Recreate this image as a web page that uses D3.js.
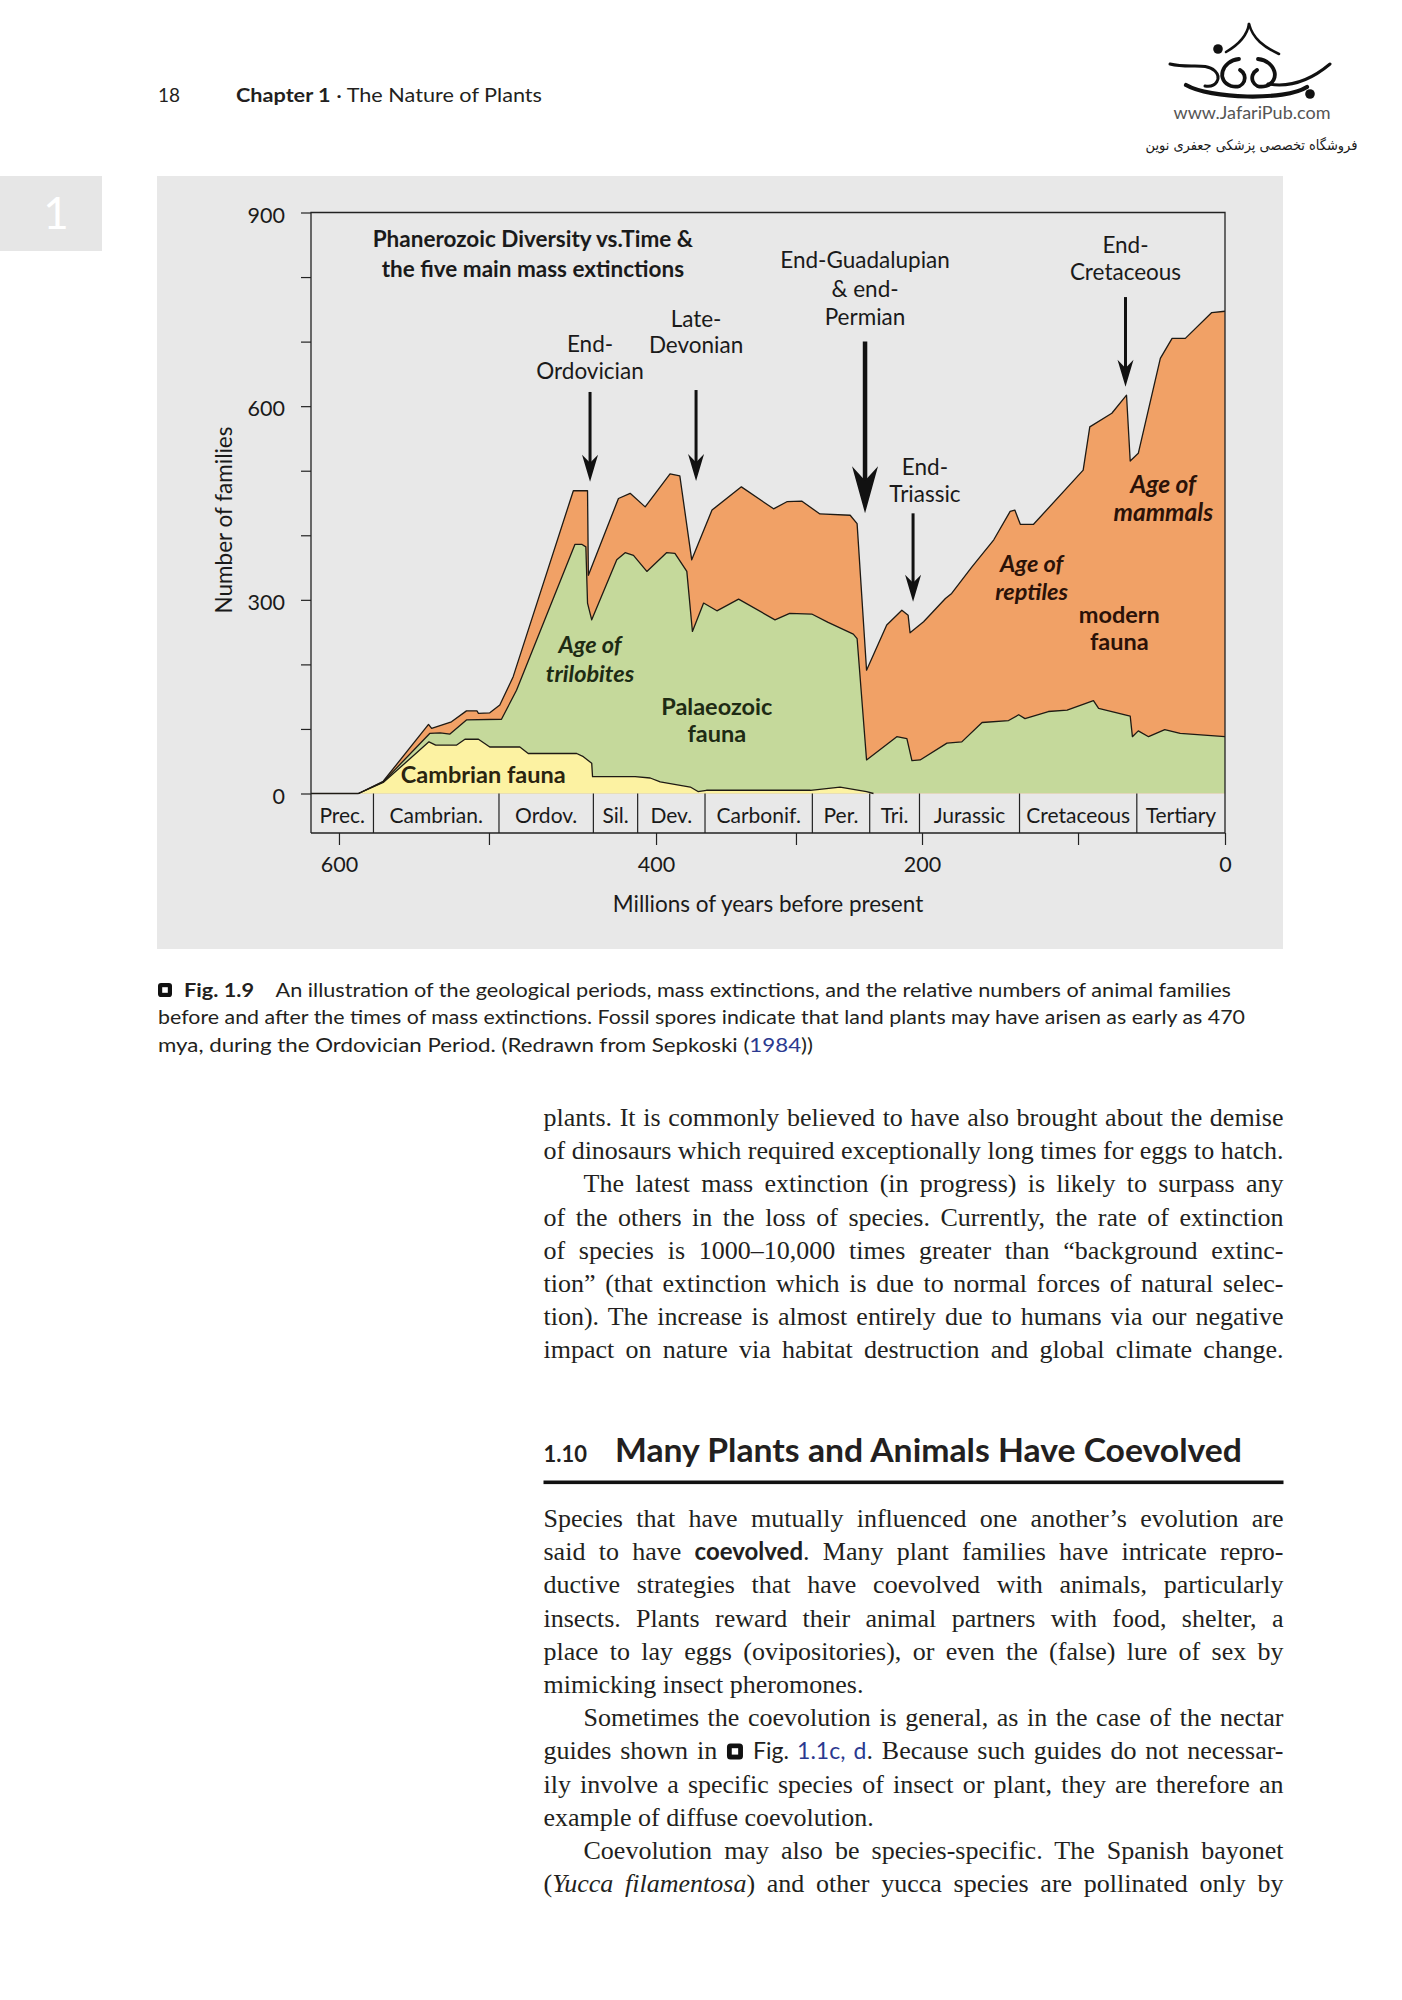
<!DOCTYPE html>
<html><head><meta charset="utf-8">
<script src="https://cdn.jsdelivr.net/npm/d3@7"></script>
<style>body{margin:0;background:#fff} svg{display:block}</style>
</head><body>
<svg id="page" width="1402" height="2000"></svg>
<script>
// ---------------- DATA ----------------
const periodNames  = ["Prec.","Cambrian.","Ordov.","Sil.","Dev.","Carbonif.","Per.","Tri.","Jurassic","Cretaceous","Tertiary"];
const periodStarts = [620, 577, 494, 437.5, 411, 365, 287, 241.5, 202, 137.5, 60]; // Myr before present
const xTickValues  = [600, 500, 400, 300, 200, 100, 0];
const xTickLabels  = ["600", "", "400", "", "200", "", "0"];
const yTickValues  = [0, 100, 200, 300, 400, 500, 600, 700, 800, 900];
const yTickLabels  = ["0", "", "", "300", "", "", "600", "", "", "900"];

// cumulative upper edges of the three faunas  [Myr, number of families]
const totalFamilies = [[620,0],[587,0],[570.5,19],[540.3,107],[538.2,101],[525,111],[515,128],[508,128],[507,124],[499.5,125],[493.5,137],[485.5,181],[449.5,469],[441,469],[440.5,338],[422.5,457],[415.5,465],[406.5,444],[390,495],[383,492],[374.5,362],[360,439],[339,475],[316,441],[306.5,452],[295.5,453],[281,433],[257,431],[251.5,418],[244,191],[228,261],[216,284],[211,276],[209.5,249],[199,266],[185,302],[181,310],[168,351],[154,393],[143.5,437],[140.5,439],[137,417],[128.5,417],[96.5,501],[92,568],[77,589],[67,617],[64.5,515],[59,527],[44,674],[36,705],[27,705],[9,745],[0,747]];
const palaeozoicTop = [[620,0],[587,0],[570.5,18],[539.5,93],[532.5,94],[526,92],[515,114],[492.5,115],[483.5,160],[448.5,386],[444.5,386],[442,382],[441,295],[438.5,269],[423.5,362],[418.5,373],[413.5,369],[405.5,344],[392.5,373],[386.5,372],[378,344],[374,251],[366,295],[356.5,283],[341,301],[315,269],[304.5,279],[287.5,278],[274.5,265],[254.5,247],[251.5,240],[244,52],[220,88],[212,85],[208,51],[201.5,52],[184,78],[174.5,80],[161.5,110],[144.5,113],[138,122],[134,116],[119,127],[107,129],[89.5,144],[86,132],[64.5,120],[63,88],[59,97],[52,88],[41,99],[30.5,93],[0,88]];
const cambrianTop = [[620,0],[587,0],[570.5,17],[540,80],[535.5,75],[521.5,75],[516,84],[507,84],[499.5,72],[481.5,72],[476.5,62],[447.5,62],[443.5,57],[438.5,47],[438,26],[412.5,26],[403.5,24],[397,18],[375.5,10],[370,3],[364,5],[288.5,5],[265,10],[244,3],[238.5,0],[0,0]];

// mass-extinction arrows: [Myr, top of shaft, tip] (families)
const extinctionNames = ["End-Ordovician","Late-Devonian","End-Guadalupian & end-Permian","End-Triassic","End-Cretaceous"];
const extinctionAges  = [439.5, 371.4, 245.2, 207.1, 67.7];
const arrowTop = [622, 625, 700, 434, 769];
const arrowTip = [483, 484, 434, 297, 630];

// ---------------- PAGE ----------------
const SANS = "Lato, 'Open Sans', 'DejaVu Sans', sans-serif";
const SERIF = "'Liberation Serif', 'Times New Roman', serif";
const INK = "#231f20";
const svg = d3.select("#page");
svg.append("rect").attr("width",1402).attr("height",2000).attr("fill","#fff");

// running head
svg.append("text").attr("x",158).attr("y",102).attr("font-family",SANS).attr("font-size",19).attr("fill",INK).text("18");
const rh = svg.append("text").attr("x",236).attr("y",102).attr("font-family",SANS).attr("font-size",19).attr("fill",INK)
  .style("white-space","pre").attr("textLength",306).attr("lengthAdjust","spacingAndGlyphs");
rh.append("tspan").attr("font-weight",700).text("Chapter 1");
rh.append("tspan").text(" · The Nature of Plants");

// publisher logo
const logo = svg.append("g").attr("fill","none").attr("stroke","#111").attr("stroke-linecap","round");
[
 ["M1249,24 C1247,37 1238,45 1226,52",2.6],
 ["M1249,24 C1253,39 1264,47 1279,54",2.6],
 ["M1170,64 C1190,69 1205,62 1215,71 C1222,78 1216,88 1205,86",3],
 ["M1239,59 C1221,61 1216,81 1231,86 C1245,90 1249,75 1240,70",3.8],
 ["M1258,59 C1276,61 1281,81 1266,86 C1252,90 1248,75 1257,70",3.8],
 ["M1268,84 C1291,88 1311,80 1330,64",3],
 ["M1186,85 C1210,99 1285,101 1307,87",4.2]
].forEach(p => logo.append("path").attr("d",p[0]).attr("stroke-width",p[1]));
svg.append("circle").attr("cx",1218).attr("cy",49).attr("r",4.8).attr("fill","#111");
svg.append("circle").attr("cx",1310).attr("cy",94).attr("r",4.8).attr("fill","#111");
svg.append("text").attr("x",1252).attr("y",119).attr("text-anchor","middle").attr("font-family",SANS)
  .attr("font-size",17).attr("fill","#555").attr("textLength",157).attr("lengthAdjust","spacingAndGlyphs").text("www.JafariPub.com");
svg.append("text").attr("x",1251.5).attr("y",150).attr("text-anchor","middle").attr("font-family","'DejaVu Sans', sans-serif")
  .attr("font-size",14.5).attr("fill","#1a1a1a").attr("direction","rtl").attr("textLength",212).attr("lengthAdjust","spacingAndGlyphs")
  .text("فروشگاه تخصصی پزشکی جعفری نوین");

// chapter tab
svg.append("rect").attr("x",0).attr("y",176).attr("width",102).attr("height",75).attr("fill","#e6e6e6");
svg.append("text").attr("x",56).attr("y",229).attr("text-anchor","middle").attr("font-family",SANS)
  .attr("font-size",44).attr("fill","#fff").text("1");

// figure panel
svg.append("rect").attr("x",157).attr("y",176).attr("width",1126).attr("height",773).attr("fill","#e8e8e8");

// ---------------- CHART ----------------
const plotL = 311, plotR = 1225, yBase = 793.5, yTopPx = 212.5, bandBottom = 833;
// the redrawn time axis is not evenly spaced: piecewise-linear scale through the tick ages
const xFrac = [0, 0.0306, 0.1947, 0.3775, 0.5306, 0.6685, 0.8392, 1];
const x = d3.scaleLinear().domain([620].concat(xTickValues)).range(xFrac.map(f => plotL + f*(plotR-plotL)));
const y = d3.scaleLinear().domain([0,900]).range([yBase, yTopPx]);

const chart = svg.append("g");
chart.append("clipPath").attr("id","plotclip").append("rect")
  .attr("x",plotL).attr("y",yTopPx).attr("width",plotR-plotL).attr("height",yBase-yTopPx);

const area = d3.area().x(d => x(d[0])).y0(y(0)).y1(d => y(d[1]));
const line = d3.line().x(d => x(d[0])).y(d => y(d[1]));
const layers = chart.append("g").attr("clip-path","url(#plotclip)");
layers.append("path").datum(totalFamilies).attr("d",area).attr("fill","#f1a166");
layers.append("path").datum(palaeozoicTop).attr("d",area).attr("fill","#c5d99b");
layers.append("path").datum(cambrianTop).attr("d",area).attr("fill","#fcf2a2");
function trimZeros(s){ let a=0,b=s.length-1; while(a<b && s[a+1][1]===0) a++; while(b>a && s[b-1][1]===0) b--; return s.slice(a,b+1); }
const outl = chart.append("g").attr("fill","none").attr("stroke","#1e1a14").attr("stroke-width",1.3).attr("stroke-linejoin","round");
outl.append("path").datum(totalFamilies).attr("d",line);
outl.append("path").datum(trimZeros(palaeozoicTop)).attr("d",line);
outl.append("path").datum(trimZeros(cambrianTop)).attr("d",line);

// frame
const frame = chart.append("g").attr("stroke","#222").attr("stroke-width",1.3).attr("fill","none");
frame.append("path").attr("d",`M${plotL},${bandBottom}V${yTopPx}H${plotR}V${bandBottom}H${plotL}`);

const CF = 22.5; // chart font size
// period band
const band = chart.append("g");
periodStarts.forEach((s,i) => {
  const e = i < periodStarts.length-1 ? periodStarts[i+1] : 0;
  if (i > 0) band.append("line").attr("x1",x(s)).attr("x2",x(s)).attr("y1",yBase).attr("y2",bandBottom)
     .attr("stroke","#222").attr("stroke-width",1.2);
  band.append("text").attr("x",(x(s)+x(e))/2).attr("y",823).attr("text-anchor","middle")
     .attr("font-family",SANS).attr("font-size",21).attr("fill","#1a1a1a").text(periodNames[i]);
});

// axes
const yAxis = d3.axisLeft(y).tickValues(yTickValues).tickSize(10).tickPadding(16)
  .tickFormat((d,i) => yTickLabels[i]);
const ya = chart.append("g").attr("transform",`translate(${plotL},0)`).call(yAxis);
ya.select(".domain").remove();
ya.selectAll("line").attr("stroke","#222").attr("stroke-width",1.2);
ya.selectAll("text").attr("font-family",SANS).attr("font-size",21.5).attr("fill","#1a1a1a").attr("dy","0.45em");

const xAxis = d3.axisBottom(x).tickValues(xTickValues).tickSize(12).tickPadding(12)
  .tickFormat((d,i) => xTickLabels[i]);
const xa = chart.append("g").attr("transform",`translate(0,${bandBottom})`).call(xAxis);
xa.select(".domain").remove();
xa.selectAll("line").attr("stroke","#222").attr("stroke-width",1.2);
xa.selectAll("text").attr("font-family",SANS).attr("font-size",21.5).attr("fill","#1a1a1a");

chart.append("text").attr("transform","translate(232,520) rotate(-90)").attr("text-anchor","middle")
  .attr("font-family",SANS).attr("font-size",CF).attr("fill","#1a1a1a").text("Number of families");
chart.append("text").attr("x",768).attr("y",912).attr("text-anchor","middle")
  .attr("font-family",SANS).attr("font-size",CF).attr("fill","#1a1a1a").text("Millions of years before present");

// annotations (positioned in data space)
function label(lines, age, fams, opt){
  const t = chart.append("text").attr("text-anchor","middle").attr("font-family",SANS)
    .attr("font-size",opt.size||CF).attr("font-weight",opt.bold?700:400)
    .attr("font-style",opt.italic?"italic":"normal").attr("fill",opt.fill||"#1a1a1a");
  lines.forEach((l,i) => t.append("tspan").attr("x",x(age)).attr("y",y(fams[i])).text(l));
}
const AF = 23.5;
label(["Phanerozoic Diversity vs.Time &","the five main mass extinctions"],473.7,[846,800.5],{bold:true,size:22.5});
label(["End-","Ordovician"],439.5,[684.3,641.6],{});
label(["Late-","Devonian"],371.4,[723,682],{});
label(["End-Guadalupian","& end-","Permian"],245.2,[813.5,769.5,725.7],{});
label(["End-","Triassic"],198.1,[493.3,452],{});
label(["End-","Cretaceous"],67.7,[836.7,795.4],{});
label(["Age of","trilobites"],439.5,[217,173],{bold:true,italic:true,fill:"#1e2b14",size:AF});
label(["Palaeozoic","fauna"],356.6,[121.6,80.2],{bold:true,fill:"#1e2b14",size:AF});
label(["Cambrian fauna"],503.8,[15.8],{bold:true,fill:"#2a2410",size:AF});
label(["Age of","reptiles"],129.7,[343.6,299.7],{bold:true,italic:true,fill:"#2b1208",size:AF});
label(["modern","fauna"],71.9,[263.6,222.3],{bold:true,fill:"#2b1208",size:AF});
label(["Age of","mammals"],42,[465,422.6],{bold:true,italic:true,fill:"#2b1208",size:24.5});

// arrows
const arrows = chart.append("g");
extinctionAges.forEach((a,i) => {
  const big = i === 2;
  const hw = big ? 26 : 16, hl = big ? 47 : 27, sw = big ? 4.5 : 3;
  const xa_ = x(a), y0 = y(arrowTop[i]), y1 = y(arrowTip[i]);
  arrows.append("line").attr("x1",xa_).attr("x2",xa_).attr("y1",y0).attr("y2",y1-hl*0.6)
    .attr("stroke","#111").attr("stroke-width",sw);
  arrows.append("path").attr("fill","#111")
    .attr("d",`M${xa_},${y1} L${xa_-hw/2},${y1-hl} L${xa_},${y1-hl*0.7} L${xa_+hw/2},${y1-hl} Z`);
});

// ---------------- CAPTION ----------------
function icon(g, cx, cy, s){
  g.append("rect").attr("x",cx-s/2).attr("y",cy-s/2).attr("width",s).attr("height",s).attr("rx",s*0.22).attr("fill","#111");
  g.append("rect").attr("x",cx-s*0.2).attr("y",cy-s*0.2).attr("width",s*0.4).attr("height",s*0.4).attr("fill","#fff");
}
icon(svg, 165, 990, 14);
svg.append("text").attr("x",184).attr("y",996.5).attr("font-family",SANS).attr("font-size",18.5).attr("font-weight",700)
  .attr("fill",INK).attr("textLength",70).attr("lengthAdjust","spacingAndGlyphs").text("Fig. 1.9");
const capLines = [
  {x:275.6, y:996.5, w:955.4, segs:["An illustration of the geological periods, mass extinctions, and the relative numbers of animal families"]},
  {x:158, y:1024, w:1087, segs:["before and after the times of mass extinctions. Fossil spores indicate that land plants may have arisen as early as 470"]},
  {x:158, y:1051.5, w:655, segs:["mya, during the Ordovician Period. (Redrawn from Sepkoski (", {blue:"1984"}, "))"]}
];
capLines.forEach(c => {
  const t = svg.append("text").attr("x",c.x).attr("y",c.y).attr("font-family",SANS).attr("font-size",18.5)
    .attr("fill",INK).style("white-space","pre").attr("textLength",c.w).attr("lengthAdjust","spacingAndGlyphs");
  c.segs.forEach(s => { if (typeof s === "string") t.append("tspan").text(s); else t.append("tspan").attr("fill","#2b3990").text(s.blue); });
});

// ---------------- BODY TEXT ----------------
const colX = 543.5, colW = 740, indentW = 40, lead = 33.2, BF = 26;
const body1 = [
  {segs:["plants. It is commonly believed to have also brought about the demise"], j:true},
  {segs:["of dinosaurs which required exceptionally long times for eggs to hatch."], j:true},
  {segs:["The latest mass extinction (in progress) is likely to surpass any"], j:true, ind:true},
  {segs:["of the others in the loss of species. Currently, the rate of extinction"], j:true},
  {segs:["of species is 1000–10,000 times greater than “background extinc-"], j:true},
  {segs:["tion” (that extinction which is due to normal forces of natural selec-"], j:true},
  {segs:["tion). The increase is almost entirely due to humans via our negative"], j:true},
  {segs:["impact on nature via habitat destruction and global climate change."], j:true}
];
const body2 = [
  {segs:["Species that have mutually influenced one another’s evolution are"], j:true},
  {segs:["said to have ", {b:"coevolved"}, ". Many plant families have intricate repro-"], j:true},
  {segs:["ductive strategies that have coevolved with animals, particularly"], j:true},
  {segs:["insects. Plants reward their animal partners with food, shelter, a"], j:true},
  {segs:["place to lay eggs (ovipositories), or even the (false) lure of sex by"], j:true},
  {segs:["mimicking insect pheromones."], j:false},
  {segs:["Sometimes the coevolution is general, as in the case of the nectar"], j:true, ind:true},
  {segs:["guides shown in ", {icon:true}, " ", {sans:"Fig. "}, {blue:"1.1c, d"}, ". Because such guides do not necessar-"], j:true},
  {segs:["ily involve a specific species of insect or plant, they are therefore an"], j:true},
  {segs:["example of diffuse coevolution."], j:false},
  {segs:["Coevolution may also be species-specific. The Spanish bayonet"], j:true, ind:true},
  {segs:["(", {i:"Yucca filamentosa"}, ") and other yucca species are pollinated only by"], j:true}
];

function drawBody(lines, y0){
  lines.forEach((ln, k) => {
    const ind = ln.ind ? indentW : 0;
    const t = svg.append("text").attr("x",colX+ind).attr("y",y0 + k*lead).attr("font-family",SERIF)
      .attr("font-size",BF).attr("fill",INK).style("white-space","pre");
    let full = "", iconIdx = -1;
    ln.segs.forEach(s => {
      if (typeof s === "string") { t.append("tspan").text(s); full += s; }
      else if (s.b) { t.append("tspan").attr("font-family",SANS).attr("font-weight",700).attr("font-size",24).text(s.b); full += s.b; }
      else if (s.i) { t.append("tspan").attr("font-style","italic").text(s.i); full += s.i; }
      else if (s.sans) { t.append("tspan").attr("font-family",SANS).attr("font-size",23).text(s.sans); full += s.sans; }
      else if (s.blue) { t.append("tspan").attr("font-family",SANS).attr("font-size",23).attr("fill","#2b3990").text(s.blue); full += s.blue; }
      else if (s.icon) { iconIdx = full.length; t.append("tspan").text("\u2002\u2009"); full += "\u2002\u2009"; }
    });
    if (ln.j) {
      const len = t.node().getComputedTextLength();
      const n = (full.match(/ /g) || []).length;
      if (n) {
        let ws = (colW - ind - len) / n;
        if (ws < -1) {
          const ls = (colW - ind - len + n) / full.length;
          t.style("letter-spacing", ls + "px");
          ws = -1;
        }
        t.style("word-spacing", ws + "px");
      }
    }
    if (iconIdx >= 0) {
      const p = t.node().getStartPositionOfChar(iconIdx);
      icon(svg, p.x + 9, y0 + k*lead - 8, 16);
    }
  });
}
drawBody(body1, 1126);
svg.append("text").attr("x",543.5).attr("y",1462).attr("font-family",SANS).attr("font-size",22).attr("font-weight",700)
  .attr("fill",INK).text("1.10");
svg.append("text").attr("x",615).attr("y",1462).attr("font-family",SANS).attr("font-size",33).attr("font-weight",700)
  .attr("fill",INK).attr("textLength",627).attr("lengthAdjust","spacingAndGlyphs").text("Many Plants and Animals Have Coevolved");
svg.append("rect").attr("x",543.5).attr("y",1480.5).attr("width",740).attr("height",3.6).attr("fill","#111");
drawBody(body2, 1527);
</script>
</body></html>
